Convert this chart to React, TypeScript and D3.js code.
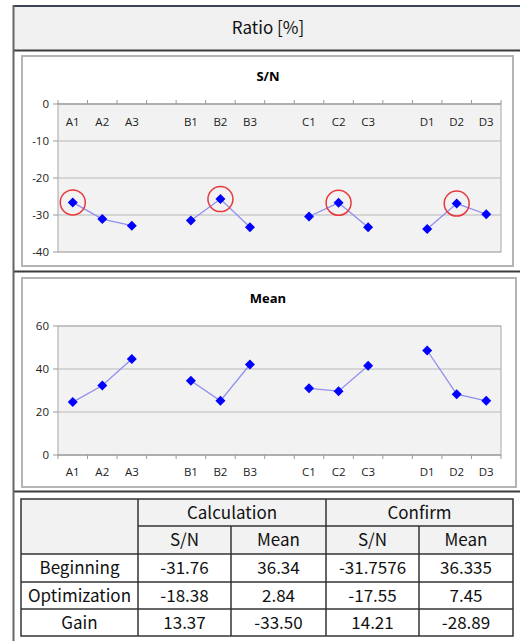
import React from 'react'
import * as d3 from 'd3'

// slots: empty string = gap between factor groups
const slots = ['A1', 'A2', 'A3', '', 'B1', 'B2', 'B3', '', 'C1', 'C2', 'C3', '', 'D1', 'D2', 'D3']
const groups = [['A1', 'A2', 'A3'], ['B1', 'B2', 'B3'], ['C1', 'C2', 'C3'], ['D1', 'D2', 'D3']]
const snValues = [-26.6, -31.1, -32.9, -31.5, -25.7, -33.3, -30.4, -26.7, -33.3, -33.8, -26.9, -29.8]
const meanValues = [24.6, 32.3, 44.7, 34.5, 25.2, 42.1, 31.0, 29.7, 41.5, 48.6, 28.3, 25.2]
const circled = ['A1', 'B2', 'C2', 'D2']
const snTicks = [0, -10, -20, -30, -40]
const meanTicks = [0, 20, 40, 60]

const colGroups = ['Calculation', 'Confirm']
const subCols = ['S/N', 'Mean', 'S/N', 'Mean']
const rowLabels = ['Beginning', 'Optimization', 'Gain']
const tableValues = [
  ['-31.76', '36.34', '-31.7576', '36.335'],
  ['-18.38', '2.84', '-17.55', '7.45'],
  ['13.37', '-33.50', '14.21', '-28.89'],
]

const names = groups.flat()
const FONT = '"Open Sans", "Noto Sans", sans-serif'
const TFONT = '"Noto Sans CJK KR", "Open Sans", sans-serif'

function Chart(props: { top: number, title: string, values: number[], domain: number[], ticks: number[], axisTop: boolean, marks?: string[], boxRight: number, boxBottom: number, pTop: number, pBottom: number }) {
  const { top, title, values, domain, ticks, axisTop, marks, boxRight, boxBottom, pTop, pBottom } = props
  const x = d3.scaleBand<number>().domain(d3.range(slots.length)).range([58, 501])
  const y = d3.scaleLinear().domain(domain).range([pBottom, pTop])
  const cx = (name: string) => x(slots.indexOf(name))! + x.bandwidth() / 2
  const line = d3.line<string>().x(d => cx(d)).y(d => y(values[names.indexOf(d)]))
  const axisY = axisTop ? pTop : pBottom
  const labelY = axisTop ? pTop + 18 : pBottom + 17
  return (
    <g>
      <rect x={22} y={top} width={boxRight - 22} height={boxBottom - top} fill="#fff" stroke="#b4b4b4" strokeWidth={2} />
      <text x={268} y={top + 25} textAnchor="middle" fontFamily={FONT} fontWeight="bold" fontSize={13}>{title}</text>
      <rect x={58} y={pTop} width={501 - 58} height={pBottom - pTop} fill="#f2f2f2" stroke="#a6a6a6" strokeWidth={1} />
      {ticks.map(t => (
        <g key={t}>
          <line x1={58} x2={501} y1={y(t)} y2={y(t)} stroke="#b8b8b8" strokeWidth={1.2} />
          <line x1={53} x2={58} y1={y(t)} y2={y(t)} stroke="#999" />
          <text x={49} y={y(t)} dy="0.35em" textAnchor="end" fontFamily={FONT} fontSize={11.5} fill="#222">{t}</text>
        </g>
      ))}
      <line x1={58} x2={501} y1={axisY} y2={axisY} stroke="#999" strokeWidth={1.2} />
      {d3.range(slots.length + 1).map(i => {
        const xx = 58 + i * x.step()
        return <line key={i} x1={xx} x2={xx} y1={axisY} y2={axisTop ? axisY - 4 : axisY + 4} stroke="#999" />
      })}
      {slots.map((s, i) => s ? (
        <text key={i} x={x(i)! + x.bandwidth() / 2} y={labelY} dy="0.35em" textAnchor="middle" fontFamily={FONT} fontSize={11.5} fill="#222">{s}</text>
      ) : null)}
      {groups.map((g, i) => (
        <path key={i} d={line(g)!} fill="none" stroke="#8f8ff0" strokeWidth={1.3} />
      ))}
      {names.map((n, i) => (
        <path key={n} transform={`translate(${cx(n)},${y(values[i])})`} d="M0,-5L5,0L0,5L-5,0Z" fill="#0000ff" />
      ))}
      {(marks || []).map(n => (
        <circle key={n} cx={cx(n)} cy={y(values[names.indexOf(n)])} r={12.5} fill="none" stroke="#e8383d" strokeWidth={1.5} />
      ))}
    </g>
  )
}

function Table() {
  const cols = [21, 138, 231, 326, 419, 513]
  const rows = [499, 526, 554, 582, 609, 636]
  const cellText = (x0: number, x1: number, y0: number, y1: number, t: string, k: string) => (
    <text key={k} x={(x0 + x1) / 2} y={(y0 + y1) / 2} dy="0.36em" textAnchor="middle" fontFamily={TFONT} fontSize={17} fill="#111">{t}</text>
  )
  return (
    <g>
      <rect x={cols[0]} y={rows[0]} width={cols[5] - cols[0]} height={rows[2] - rows[0]} fill="#f2f2f2" />
      <rect x={cols[0]} y={rows[0]} width={cols[5] - cols[0]} height={rows[5] - rows[0]} fill="none" stroke="#333" strokeWidth={1.5} />
      <line x1={cols[1]} x2={cols[5]} y1={rows[1]} y2={rows[1]} stroke="#333" strokeWidth={1.5} />
      {rows.slice(2, 5).map((r, i) => <line key={i} x1={cols[0]} x2={cols[5]} y1={r} y2={r} stroke="#333" strokeWidth={1.5} />)}
      {[1, 3].map(c => <line key={c} x1={cols[c]} x2={cols[c]} y1={rows[0]} y2={rows[5]} stroke="#333" strokeWidth={1.5} />)}
      {[2, 4].map(c => <line key={c} x1={cols[c]} x2={cols[c]} y1={rows[1]} y2={rows[5]} stroke="#333" strokeWidth={1.5} />)}
      {colGroups.map((g, i) => cellText(cols[1 + i * 2], cols[3 + i * 2], rows[0], rows[1], g, 'g' + i))}
      {subCols.map((s, i) => cellText(cols[1 + i], cols[2 + i], rows[1], rows[2], s, 's' + i))}
      {rowLabels.map((r, i) => cellText(cols[0], cols[1], rows[2 + i], rows[3 + i], r, 'r' + i))}
      {tableValues.map((row, i) => row.map((v, j) => cellText(cols[1 + j], cols[2 + j], rows[2 + i], rows[3 + i], v, `v${i}${j}`)))}
    </g>
  )
}

export default function App() {
  return (
    <svg width={520} height={641} style={{ position: 'absolute', left: 0, top: 0, background: '#fff' }}>
      <rect x={13} y={6} width={520} height={44} fill="#f0f0f0" />
      <line x1={13} x2={520} y1={6} y2={6} stroke="#3a4452" strokeWidth={2} />
      <line x1={13} x2={520} y1={50.5} y2={50.5} stroke="#3c3c3c" strokeWidth={2} />
      <line x1={13} x2={520} y1={271.5} y2={271.5} stroke="#3c3c3c" strokeWidth={2} />
      <line x1={13} x2={520} y1={491.5} y2={491.5} stroke="#3c3c3c" strokeWidth={2} />
      <line x1={13.5} x2={13.5} y1={5} y2={641} stroke="#666" strokeWidth={2} />
      <text x={268} y={28} dy="0.36em" textAnchor="middle" fontFamily={TFONT} fontSize={17} fill="#111">Ratio [%]</text>
      <Chart top={56} title="S/N" values={snValues} domain={[-40, 0]} ticks={snTicks} axisTop={true} marks={circled} boxRight={513} boxBottom={266} pTop={104} pBottom={252} />
      <Chart top={278} title="Mean" values={meanValues} domain={[0, 60]} ticks={meanTicks} axisTop={false} boxRight={516} boxBottom={487} pTop={326} pBottom={455} />
      <Table />
    </svg>
  )
}
